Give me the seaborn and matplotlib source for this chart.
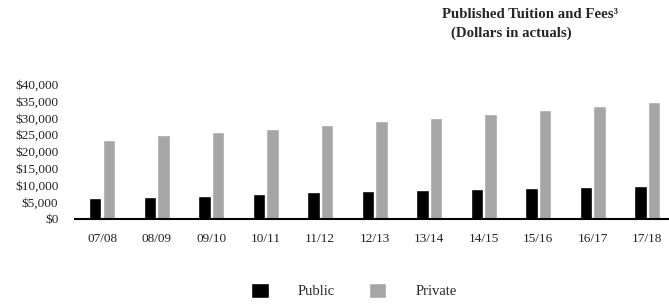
import pandas as pd
import matplotlib.pyplot as plt
import seaborn as sns
from matplotlib.patches import Patch
from matplotlib.ticker import FuncFormatter, MultipleLocator

# Data
years = ["07/08", "08/09", "09/10", "10/11", "11/12", "12/13",
         "13/14", "14/15", "15/16", "16/17", "17/18"]

public_fees = [6100, 6450, 6900, 7400, 8000, 8400, 8700, 8900, 9300, 9500, 9800]

private_fees = [23400, 24800, 25700, 26700, 27800, 28900, 30000, 31200, 32300, 33500, 34700]

df = pd.DataFrame({
    "year": years * 2,
    "fees": public_fees + private_fees,
    "sector": ["Public"] * len(years) + ["Private"] * len(years)
})

colors = {"Public": "#000000", "Private": "#a6a6a6"}

sns.set_style("white")
plt.rcParams["font.family"] = ["Liberation Serif", "DejaVu Serif"]

fig = plt.figure(figsize=(6.69, 3.05), dpi=100)
ax = fig.add_axes([0.112, 0.282, 0.888, 0.4426])

sns.barplot(
    data=df,
    x="year",
    y="fees",
    hue="sector",
    palette=colors,
    width=0.5,
    gap=0.1,
    saturation=1,
    legend=False,
    ax=ax
)

ax.set_ylim(0, 40000)
ax.set_xlim(-0.5, 10.4)
ax.yaxis.set_major_locator(MultipleLocator(5000))
ax.yaxis.set_major_formatter(FuncFormatter(lambda v, p: "\\$" + f"{int(v):,}"))

ax.set_xlabel("")
ax.set_ylabel("")

for side in ["top", "right", "left"]:
    ax.spines[side].set_visible(False)
ax.spines["bottom"].set_color("black")
ax.spines["bottom"].set_linewidth(1.5)

ax.tick_params(axis="y", length=0, pad=12, labelsize=9.5, colors="#222222")
ax.tick_params(axis="x", length=0, pad=10, labelsize=9.5, colors="#222222")

# Title
fig.text(442 / 669, 1 - 15 / 305, "Published Tuition and Fees³", ha="left", va="center",
         fontsize=10.7, fontweight="bold")
fig.text(451 / 669, 1 - 33.5 / 305, "(Dollars in actuals)", ha="left", va="center",
         fontsize=10.7, fontweight="bold")

# Legend
handles = [Patch(facecolor=colors["Public"], label="Public"),
           Patch(facecolor=colors["Private"], label="Private")]
fig.legend(
    handles=handles,
    loc="center",
    bbox_to_anchor=(354 / 669, 1 - 290.5 / 305),
    ncol=2,
    frameon=False,
    fontsize=10.5,
    handlelength=1.2,
    handleheight=1.2,
    handletextpad=2.0,
    columnspacing=2.3
)

plt.savefig("out.png", dpi=100)
plt.close()
